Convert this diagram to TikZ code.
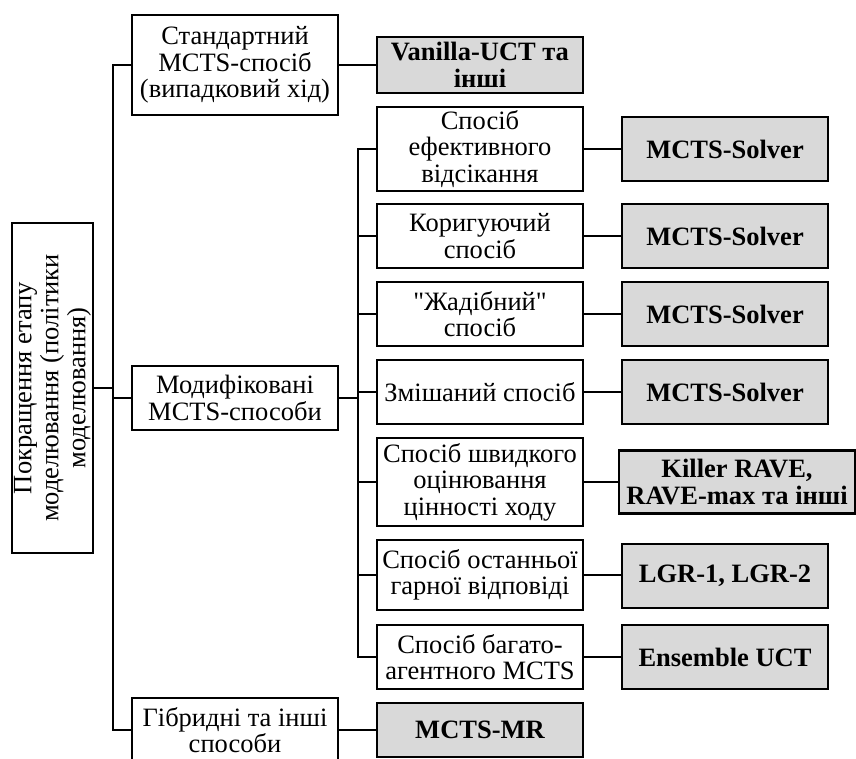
\documentclass[tikz,border=0pt]{standalone}
\usepackage{fontspec}
\setmainfont{Liberation Serif}[Ligatures=TeXOff]
\definecolor{boxgray}{RGB}{217,217,217}
\begin{document}
\begin{tikzpicture}[x=1pt,y=-1pt,
  box/.style={draw, line width=2.4pt, inner sep=0pt, align=center,
    font=\fontsize{26.5}{26.5}\selectfont, minimum width=206pt, minimum height=64pt},
  wbox/.style={box, fill=white},
  gbox/.style={box, fill=boxgray, font=\fontsize{26.5}{26.5}\selectfont\bfseries},
  conn/.style={line width=2pt}]
\useasboundingbox (0,0) rectangle (856,758);
% bus coordinates
\coordinate (b1) at (113,65);
\coordinate (b2) at (358,149);
% nodes
\node[wbox, minimum width=81pt, minimum height=330pt] (root) at (52.5,388) {};
\node[rotate=90, align=center, inner sep=0pt, font=\fontsize{26.5}{27}\selectfont] (roottext) at (52.5,388)
  {Покращення етапу\\моделювання (політики\\моделювання)};
\node[wbox, minimum height=100pt] (std) at (235,65) {Стандартний\\MCTS-спосіб\\(випадковий хід)};
\node[gbox, minimum height=56pt] (van) at (480,65) {Vanilla-UCT та\\інші};
\node[wbox] (mod) at (235,398) {Модифіковані\\MCTS-способи};
\node[wbox] (hyb) at (235,730) {Гібридні та інші\\способи};
\node[gbox, minimum height=54pt] (mr) at (480,730) {MCTS-MR};

\node[wbox, minimum height=84pt] (s1) at (480,149) {Спосіб\\ефективного\\відсікання};
\node[wbox] (s2) at (480,236) {Коригуючий\\спосіб};
\node[wbox] (s3) at (480,314) {"Жадібний"\\спосіб};
\node[wbox] (s4) at (480,392) {Змішаний спосіб};
\node[wbox, minimum height=88pt] (s5) at (480,482) {Спосіб швидкого\\оцінювання\\цінності ходу};
\node[wbox, minimum height=70pt] (s6) at (480,575) {Спосіб останньої\\гарної відповіді};
\node[wbox] (s7) at (480,657) {Спосіб багато-\\агентного MCTS};

\node[gbox] (r1) at (725,149) {MCTS-Solver};
\node[gbox] (r2) at (725,236) {MCTS-Solver};
\node[gbox] (r3) at (725,314) {MCTS-Solver};
\node[gbox] (r4) at (725,392) {MCTS-Solver};
\node[gbox, minimum width=236pt, minimum height=63pt] (r5) at (737,482) {Killer RAVE,\\RAVE-max та інші};
\node[gbox] (r6) at (725,576) {LGR-1, LGR-2};
\node[gbox] (r7) at (725,657) {Ensemble UCT};

% main bus
\draw[conn] (std.west) -- (std.west -| b1) -- (hyb.west -| b1) -- (hyb.west);
\draw[conn] (root.east) -- (root.east -| b1);
\draw[conn] (b1 |- mod.west) -- (mod.west);
\draw[conn] (std.east) -- (van.west);
\draw[conn] (hyb.east) -- (mr.west);
% sub bus
\draw[conn] (s1.west) -- (s1.west -| b2) -- (s7.west -| b2) -- (s7.west);
\draw[conn] (mod.east) -- (mod.east -| b2);
\foreach \i in {2,...,6} { \draw[conn] (s\i.west -| b2) -- (s\i.west); }
\foreach \i in {1,...,7} { \draw[conn] (s\i.east) -- (s\i.east -| r\i.west); }
\end{tikzpicture}
\end{document}
